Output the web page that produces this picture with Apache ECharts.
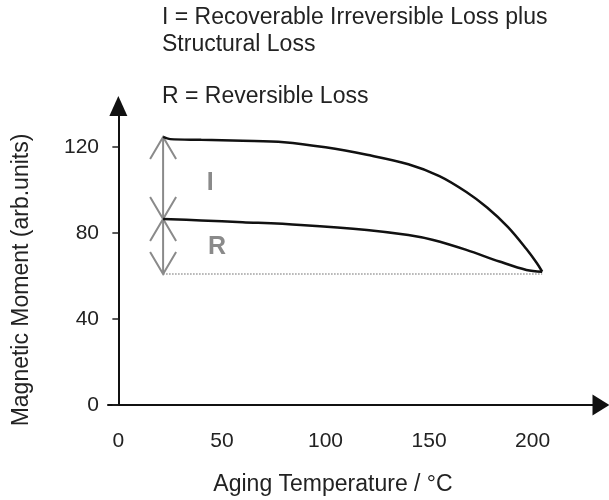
<!DOCTYPE html>
<html>
<head>
<meta charset="utf-8">
<script src="https://cdn.jsdelivr.net/npm/echarts@6/dist/echarts.min.js"></script>
<style>html,body{margin:0;padding:0;background:#fff}#c{width:609px;height:500px}</style>
</head>
<body>
<div id="c"></div>
<script>
// ---- data ----
var xTickLabels = [0, 50, 100, 150, 200];
var yTickLabels = [0, 40, 80, 120];
var upperCurve = [[21.6,124.6],[25,123.6],[40,123.3],[60,122.9],[80,122.2],[100,119.8],[120,116.3],[140,111.9],[155,106.4],[168,99.0],[178,91.8],[188,82.8],[197,72.5],[202,66.0],[204.6,62.0]];
var lowerCurve = [[21.6,86.5],[40,85.8],[60,85.0],[88,83.7],[120,81.4],[140,79.0],[152,76.7],[168,72.1],[184,66.7],[197,62.8],[204.6,62.0]];
var baseline = [[21.6,60.9],[204.6,60.9]];
var lossArrows = [[21.6,124.6,86.5],[21.6,86.5,60.9]];   // x, from, to
var lossLabels = [[44.3,103.3,'I'],[47.6,73.3,'R']];
var legendLines = ['I = Recoverable Irreversible Loss plus','Structural Loss','R = Reversible Loss'];
var xName = 'Aging Temperature / \u00b0C';
var yName = 'Magnetic Moment (arb.units)';

var FONT = '"Liberation Sans", Arial, sans-serif';
var chart = echarts.init(document.getElementById('c'));
chart.setOption({
  animation: false,
  backgroundColor: '#fff',
  grid: {left: 108, right: 8, top: 106, bottom: 95, containLabel: false},
  xAxis: {
    type: 'value', min: -5, max: 233,
    axisLine: {show: true, symbol: ['none','triangle'], symbolSize: [21,17], lineStyle: {color: '#111', width: 2}},
    axisTick: {show: false},
    splitLine: {show: false},
    axisLabel: {customValues: xTickLabels, margin: 26, color: '#222', fontSize: 21, fontFamily: FONT}
  },
  yAxis: {
    type: 'value', min: 0, max: 139,
    axisLine: {show: true, symbol: ['none','triangle'], symbolSize: [18,20], lineStyle: {color: '#111', width: 2}},
    axisTick: {show: true, customValues: yTickLabels, length: 6, lineStyle: {color: '#222', width: 1.5}},
    splitLine: {show: false},
    axisLabel: {customValues: yTickLabels, margin: 9, color: '#222', fontSize: 21, fontFamily: FONT}
  },
  series: [
    {type: 'line', data: baseline, symbol: 'none', lineStyle: {color: '#999', width: 1.5, type: 'dotted'}, z: 1},
    {type: 'line', data: upperCurve, smooth: 0.35, symbol: 'none', lineStyle: {color: '#111', width: 2.5}, z: 3},
    {type: 'line', data: lowerCurve, smooth: 0.35, symbol: 'none', lineStyle: {color: '#111', width: 2.5}, z: 3},
    {type: 'custom', data: lossArrows, z: 2,
      renderItem: function (params, api) {
        var p1 = api.coord([api.value(0), api.value(1)]);
        var p2 = api.coord([api.value(0), api.value(2)]);
        var st = {stroke: '#8a8a8a', lineWidth: 2, fill: null};
        return {type: 'group', children: [
          {type: 'line', shape: {x1: p1[0], y1: p1[1], x2: p2[0], y2: p2[1]}, style: st},
          {type: 'polyline', shape: {points: [[p1[0]-13, p1[1]+22], p1, [p1[0]+13, p1[1]+22]]}, style: st},
          {type: 'polyline', shape: {points: [[p2[0]-13, p2[1]-22], p2, [p2[0]+13, p2[1]-22]]}, style: st}
        ]};
      }
    },
    {type: 'custom', data: lossLabels, z: 2,
      renderItem: function (params, api) {
        var p = api.coord([api.value(0), api.value(1)]);
        return {type: 'text', style: {text: lossLabels[params.dataIndex][2], x: p[0], y: p[1], align: 'center', verticalAlign: 'middle',
          font: 'bold 25px ' + FONT, fill: '#8a8a8a'}};
      }
    }
  ],
  graphic: [
    {type: 'text', left: 162, top: 6, style: {text: legendLines[0], font: '23px ' + FONT, fill: '#222'}},
    {type: 'text', left: 162, top: 33, style: {text: legendLines[1], font: '23px ' + FONT, fill: '#222'}},
    {type: 'text', left: 162, top: 85, style: {text: legendLines[2], font: '23px ' + FONT, fill: '#222'}},
    {type: 'text', x: 333, y: 485, style: {text: xName, font: '23px ' + FONT, fill: '#222', align: 'center', verticalAlign: 'middle'}},
    {type: 'text', x: 22, y: 280, rotation: Math.PI/2, style: {text: yName, font: '23px ' + FONT, fill: '#222', align: 'center', verticalAlign: 'middle'}}
  ]
});
</script>
</body>
</html>
